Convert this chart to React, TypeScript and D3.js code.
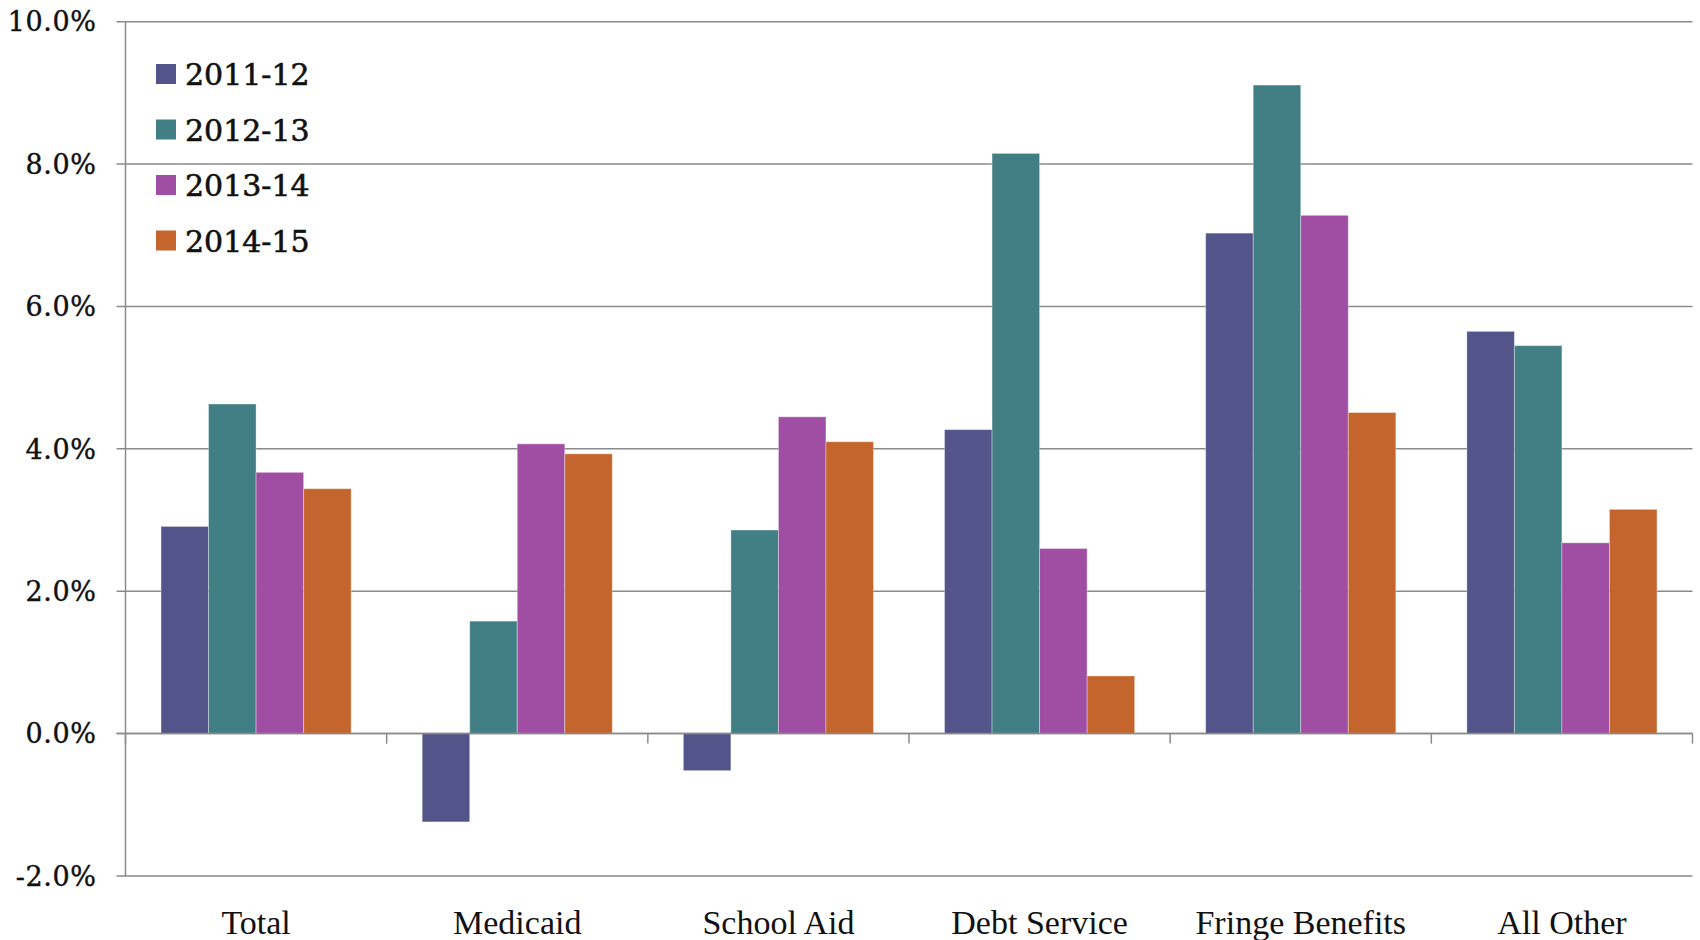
import { useEffect, useRef } from 'react';
import * as d3 from 'd3';

// Year-over-year growth in spending, by category (%)
const categories = ['Total', 'Medicaid', 'School Aid', 'Debt Service', 'Fringe Benefits', 'All Other'];
const seriesNames = ['2011-12', '2012-13', '2013-14', '2014-15'];
const fy2011_12 = [2.91, -1.24, -0.52, 4.27, 7.03, 5.65];
const fy2012_13 = [4.63, 1.58, 2.86, 8.15, 9.11, 5.45];
const fy2013_14 = [3.67, 4.07, 4.45, 2.6, 7.28, 2.68];
const fy2014_15 = [3.44, 3.93, 4.1, 0.81, 4.51, 3.15];
const seriesColors = ['#52548a', '#427f84', '#a04ea3', '#c4652d'];
const yTicks = [-2, 0, 2, 4, 6, 8, 10];

const WIDTH = 1700;
const HEIGHT = 940;

export default function App() {
  const svgRef = useRef<SVGSVGElement>(null);

  useEffect(() => {
    if (!svgRef.current) return;
    const svg = d3.select(svgRef.current);
    svg.selectAll('*').remove();

    const left = 125.5;
    const right = 1692.5;
    const top = 21.7;
    const bottom = 876;
    const gridColor = '#8a8a8a';

    const values = [fy2011_12, fy2012_13, fy2013_14, fy2014_15];

    const x0 = d3.scaleBand<string>().domain(categories).range([left, right]);
    const gap = x0.bandwidth() * 0.136;
    const x1 = d3
      .scaleBand<string>()
      .domain(seriesNames)
      .range([gap, x0.bandwidth() - gap]);
    const y = d3.scaleLinear().domain([-2, 10]).range([bottom, top]);

    // gridlines + y tick labels
    yTicks.forEach((t) => {
      svg
        .append('line')
        .attr('x1', left - 9)
        .attr('x2', right)
        .attr('y1', y(t))
        .attr('y2', y(t))
        .attr('stroke', gridColor)
        .attr('stroke-width', 1.5);

      svg
        .append('text')
        .attr('x', 96.5)
        .attr('y', y(t))
        .attr('dy', '0.36em')
        .attr('text-anchor', 'end')
        .attr('font-family', '"DejaVu Serif", serif')
        .attr('font-size', '27px')
        .attr('letter-spacing', '0.6px')
        .attr('fill', '#111')
        .attr('stroke', '#111')
        .attr('stroke-width', 0.4)
        .text(`${t.toFixed(1)}%`);
    });

    // y axis line
    svg
      .append('line')
      .attr('x1', left)
      .attr('x2', left)
      .attr('y1', top)
      .attr('y2', bottom)
      .attr('stroke', gridColor)
      .attr('stroke-width', 1.5);

    // bars
    values.forEach((vals, si) => {
      const name = seriesNames[si];
      svg
        .append('g')
        .selectAll('rect')
        .data(vals)
        .enter()
        .append('rect')
        .attr('x', (_, i) => (x0(categories[i]) ?? 0) + (x1(name) ?? 0))
        .attr('y', (d) => y(Math.max(0, d)))
        .attr('width', x1.bandwidth())
        .attr('height', (d) => Math.abs(y(d) - y(0)))
        .attr('fill', seriesColors[si])
        .attr('stroke', 'rgba(255,255,255,0.35)')
        .attr('stroke-width', 1);
    });

    // zero line with category ticks
    svg
      .append('line')
      .attr('x1', left - 9)
      .attr('x2', right)
      .attr('y1', y(0))
      .attr('y2', y(0))
      .attr('stroke', gridColor)
      .attr('stroke-width', 1.5);

    [...categories.map((c) => x0(c) ?? 0), right].forEach((xv) => {
      svg
        .append('line')
        .attr('x1', xv)
        .attr('x2', xv)
        .attr('y1', y(0))
        .attr('y2', y(0) + 10)
        .attr('stroke', gridColor)
        .attr('stroke-width', 1.5);
    });

    // category labels
    categories.forEach((c) => {
      svg
        .append('text')
        .attr('x', (x0(c) ?? 0) + x0.bandwidth() / 2)
        .attr('y', 934)
        .attr('text-anchor', 'middle')
        .attr('font-family', '"Liberation Serif", serif')
        .attr('font-size', '34px')
        .attr('fill', '#111')
        .text(c);
    });

    // legend
    const legend = svg.append('g').attr('transform', 'translate(156, 64)');
    seriesNames.forEach((name, i) => {
      const row = legend.append('g').attr('transform', `translate(0, ${i * 55.5})`);
      row
        .append('rect')
        .attr('width', 20)
        .attr('height', 20)
        .attr('fill', seriesColors[i]);
      row
        .append('text')
        .attr('x', 29)
        .attr('y', 21)
        .attr('font-family', '"DejaVu Serif", serif')
        .attr('font-size', '30px')
        .attr('fill', '#111')
        .attr('stroke', '#111')
        .attr('stroke-width', 0.6)
        .text(name);
    });
  }, []);

  return (
    <svg
      ref={svgRef}
      width={WIDTH}
      height={HEIGHT}
      style={{ position: 'absolute', left: 0, top: 0, background: '#fff' }}
    />
  );
}
